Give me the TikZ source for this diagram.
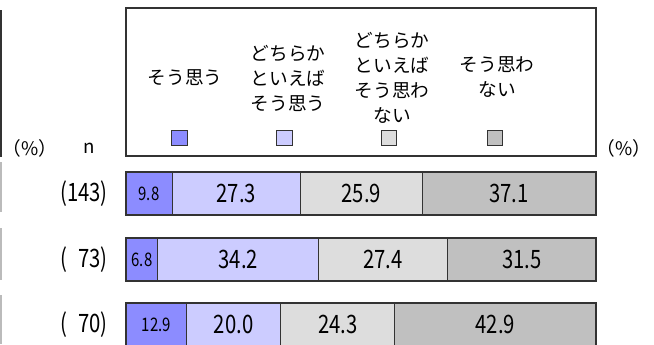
\documentclass[tikz,border=0pt]{standalone}
\usepackage{fontspec}
\setmainfont{Noto Sans CJK JP}
\usetikzlibrary{positioning}
\definecolor{barblue}{HTML}{8C8CFF}
\definecolor{barlblue}{HTML}{CCCCFF}
\definecolor{barlgray}{HTML}{DDDDDD}
\definecolor{bargray}{HTML}{C0C0C0}
\definecolor{edgegray}{HTML}{333333}
\definecolor{rulegray}{HTML}{BBBBBB}

\tikzset{
  legtext/.style={align=center, inner sep=0pt, font=\fontsize{14}{18.75}\selectfont},
  legsq/.style={draw=edgegray, line width=0.6pt, minimum size=11.5pt, inner sep=0pt},
  unitlab/.style={inner sep=0pt, font=\fontsize{14}{16}\selectfont},
  rowlab/.style={inner sep=0pt, anchor=east, font=\fontsize{19}{20}\selectfont\addfontfeature{FakeStretch=0.8}},
  numbig/.style={inner sep=0pt, font=\fontsize{19}{20}\selectfont\addfontfeature{FakeStretch=0.8}},
  numsmall/.style={inner sep=0pt, font=\fontsize{14}{16}\selectfont\addfontfeature{FakeStretch=0.8}},
  segline/.style={draw=edgegray, line width=0.8pt}
}

\begin{document}
\begin{tikzpicture}[x=0.75pt, y=-0.75pt]
				\useasboundingbox (0,0) rectangle (654,344);
				\clip (0,0) rectangle (654,344);
				
				% cut edge of the table on the left
				\draw[edgegray, line width=1.2pt] (1,10) -- (1,157);
				\foreach \ya/\yb in {162/212, 228/280, 295/344}
				\draw[rulegray, line width=1pt] (1,\ya) -- (1,\yb);
				
				% legend
				\draw[segline, fill=white] (126,8) rectangle (596,156);
				\node[legtext] (leg1) at (185,78) {そう思う};
				\node[legtext] (leg2) at (288,78) {どちらか\\といえば\\そう思う};
				\node[legtext] (leg3) at (392,78) {どちらか\\といえば\\そう思わ\\ない};
				\node[legtext] (leg4) at (497,77) {そう思わ\\ない};
				\node[legsq, fill=barblue] (sq1) at (179.5,138) {};
				\node[legsq, fill=barlblue] (sq2) at (284.5,138) {};
				\node[legsq, fill=barlgray] (sq3) at (389,138) {};
				\node[legsq, fill=bargray] (sq4) at (495,138) {};
				
				\node[unitlab] (pctl) at (30,148) {（\%）};
				\node[unitlab] (nlab) at (89,148) {n};
				\node[unitlab] (pctr) at (624,148) {（\%）};
				
				% bars, 470 px = 100 %
				\pgfmathsetmacro{\barl}{126}
				\pgfmathsetmacro{\barr}{596}
				\foreach \i/\n/\a/\b/\c/\d/\yt in {1/{(143)}/9.8/27.3/25.9/37.1/172,
					2/{(\phantom{1}73)}/6.8/34.2/27.4/31.5/238,
					3/{(\phantom{1}70)}/12.9/20.0/24.3/42.9/303}{
					\pgfmathsetmacro{\yb}{\yt+43}
					\pgfmathsetmacro{\ym}{\yt+21.5}
					\pgfmathsetmacro{\xa}{\barl+4.7*\a}
					\pgfmathsetmacro{\xb}{\xa+4.7*\b}
					\pgfmathsetmacro{\xc}{\xb+4.7*\c}
					\draw[segline, fill=bargray] (\barl,\yt) rectangle (\barr,\yb);
					\draw[segline, fill=barlgray] (\barl,\yt) rectangle (\xc,\yb);
					\draw[segline, fill=barlblue] (\barl,\yt) rectangle (\xb,\yb);
					\draw[segline, fill=barblue] (\barl,\yt) rectangle (\xa,\yb);
					\node[rowlab] (n\i) at (108,\ym) {\n};
					\node[numsmall] (v\i a) at ({(\barl+\xa)/2},\ym) {\a};
					\node[numbig] (v\i b) at ({(\xa+\xb)/2},\ym) {\b};
					\node[numbig] (v\i c) at ({(\xb+\xc)/2},\ym) {\c};
					\node[numbig] (v\i d) at ({(\xc+\barr)/2},\ym) {\d};
				}
\end{tikzpicture}
\end{document}
